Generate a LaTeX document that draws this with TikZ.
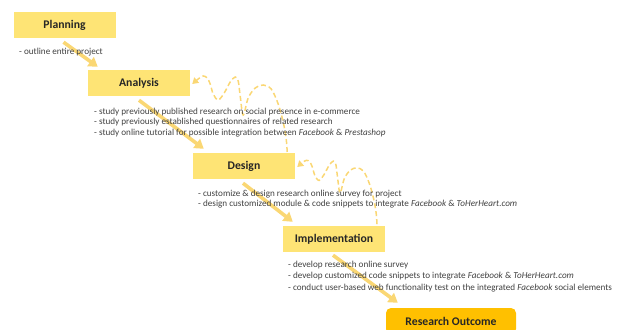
\documentclass[tikz,border=0pt]{standalone}
\usepackage{fontspec}
\setmainfont{Carlito}
\usetikzlibrary{arrows.meta,calc}
\definecolor{boxyellow}{HTML}{FEE475}
\definecolor{flowarrow}{HTML}{FAD774}
\definecolor{outcome}{HTML}{FFC000}
\definecolor{notegray}{HTML}{404040}
\begin{document}
\begin{tikzpicture}[x=1pt,y=-1pt,
  phase/.style={fill=boxyellow, minimum width=102pt, minimum height=26pt, inner sep=0pt,
    font=\fontsize{11.7}{13}\selectfont\bfseries, text=black!85},
  outcomebox/.style={phase, fill=outcome, minimum width=130pt, rounded corners=5pt},
  note/.style={anchor=base west, inner sep=0pt, font=\fontsize{9.15}{11}\selectfont, text=notegray},
  flow/.style={draw=flowarrow, line width=3.6pt, -{Triangle[length=9pt,width=11pt]}},
  rework/.style={draw=flowarrow, line width=1.5pt, dash pattern=on 5pt off 3pt,
    -{Triangle[length=6pt,width=7pt]}},
]
\useasboundingbox (0,0) rectangle (623,329);
\clip (0,0) rectangle (623,329);

% phases
\node[phase] (planning) at (64.5,25) {Planning};
\node[phase] (analysis) at (139,83) {Analysis};
\node[phase] (design) at (244,166) {Design};
\node[phase] (implementation) at (334,239) {Implementation};
\node[outcomebox] (outcome) at (451,321) {Research Outcome};

% forward flow
\draw[flow] ($(planning.south)+(-1,4)$) -- ($(analysis.north west)+(10,-3)$);
\draw[flow] ($(analysis.south)+(0,4)$) -- ($(design.north west)+(11,-4)$);
\draw[flow] ($(design.south)+(-1,4)$) -- ($(implementation.north west)+(10,-4)$);
\draw[flow] ($(implementation.south)+(-1,3)$) -- ($(outcome.north west)+(12,-5)$);

% feedback loops (wavy, dashed), same wave shape, the second one smaller
\def\wavepts{(95,68) (94,55) (91,38) (86,20) (79,5) (71,1) (63,4) (56,14) (51,31) (48,12)
  (46,-3) (43,-7) (38,-2) (32,9) (26,16) (21,10) (18,0) (15,-6) (11,-8) (6,-5) (0,0)}
\begin{scope}[shift={($(analysis.east)+(2,1)$)}]
  \draw[rework] plot[smooth,tension=0.55] coordinates {\wavepts};
\end{scope}
\begin{scope}[shift={($(design.east)+(2,1)$)}, scale=0.84]
  \draw[rework] plot[smooth,tension=0.55] coordinates {\wavepts};
\end{scope}

% notes
\node[note] (plan1) at (19,55) {- outline entire project};
\node[note] (ana1) at (94,114) {- study previously published research on social presence in e-commerce};
\node[note] (ana2) at (94,124.7) {- study previously established questionnaires of related research};
\node[note] (ana3) at (94,135.4) {- study online tutorial for possible integration between \textit{Facebook} \& \textit{Prestashop}};
\node[note] (des1) at (198,196) {- customize \& design research online survey for project};
\node[note] (des2) at (198,206.7) {- design customized module \& code snippets to integrate \textit{Facebook} \& \textit{ToHerHeart.com}};
\node[note] (imp1) at (288,267.5) {- develop research online survey};
\node[note] (imp2) at (288,278.5) {- develop customized code snippets to integrate \textit{Facebook} \& \textit{ToHerHeart.com}};
\node[note] (imp3) at (288,290) {- conduct user-based web functionality test on the integrated \textit{Facebook} social elements};
\end{tikzpicture}
\end{document}
